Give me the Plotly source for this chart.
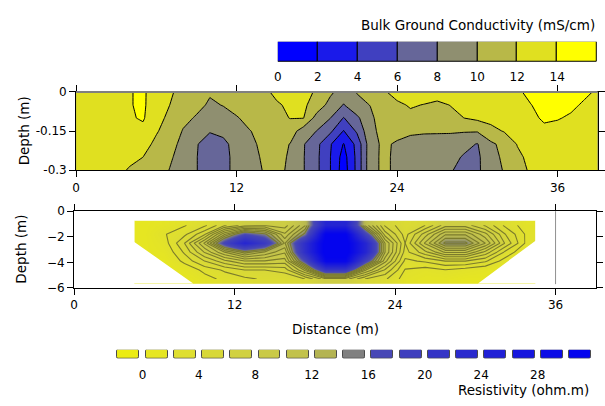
import numpy as np
import plotly.graph_objects as go

W, H = 605, 406

# ---------------- Top panel: bulk ground conductivity (mS/cm) ----------------
cond_x = list(range(0, 40))                       # distance (m)
cond_depth = [0, -0.05, -0.10, -0.15, -0.20, -0.25, -0.30]   # depth (m)
# one list per distance, values from surface to -0.3 m
cond_columns = [
    [13.0, 13.0, 13.0, 13.0, 13.0, 13.0, 13.0],
    [13.0, 13.0, 13.0, 13.0, 13.0, 13.0, 13.0],
    [13.0, 13.0, 13.0, 13.0, 13.0, 13.0, 12.9],
    [13.2, 13.2, 13.1, 13.0, 12.9, 12.8, 12.6],
    [13.9, 13.9, 13.8, 13.4, 13.0, 12.5, 11.8],
    [14.3, 14.3, 14.2, 13.5, 12.8, 12.0, 11.4],
    [13.0, 12.9, 12.6, 12.2, 11.5, 11.0, 10.7],
    [12.3, 12.0, 11.6, 11.0, 10.5, 10.2, 9.95],
    [11.3, 10.9, 10.4, 9.9, 9.6, 9.4, 9.2],
    [11.0, 10.4, 9.85, 9.3, 8.1, 8.05, 8.05],
    [10.15, 9.8, 9.2, 8.1, 7.3, 7.2, 7.2],
    [10.6, 10.05, 9.5, 8.4, 7.6, 7.5, 7.5],
    [11.2, 10.7, 9.85, 9.6, 8.6, 8.5, 8.5],
    [11.6, 11.2, 10.6, 9.95, 9.7, 9.6, 9.5],
    [11.6, 11.4, 11.0, 10.5, 10.3, 10.15, 10.05],
    [12.4, 11.8, 11.5, 11.0, 10.6, 10.4, 10.3],
    [12.6, 12.3, 12.05, 11.0, 9.95, 9.85, 9.8],
    [12.5, 12.3, 12.05, 9.0, 8.15, 8.1, 8.1],
    [11.8, 11.2, 9.2, 7.95, 6.5, 6.4, 6.4],
    [10.4, 9.3, 8.05, 6.4, 4.2, 4.05, 4.05],
    [9.0, 7.9, 5.9, 3.9, 1.9, 1.2, 1.0],
    [10.1, 9.4, 7.6, 6.3, 4.6, 4.5, 4.5],
    [11.2, 10.05, 9.6, 9.5, 9.2, 9.3, 9.3],
    [11.8, 11.4, 11.0, 10.6, 10.4, 10.4, 10.4],
    [12.6, 11.7, 11.3, 10.8, 9.7, 9.6, 9.6],
    [12.7, 12.15, 11.6, 10.3, 9.4, 9.3, 9.3],
    [12.8, 11.95, 11.5, 10.2, 9.3, 9.2, 9.2],
    [12.9, 11.6, 11.3, 10.2, 9.2, 9.0, 9.0],
    [13.0, 12.05, 11.5, 10.2, 9.1, 8.6, 8.1],
    [13.1, 12.5, 12.0, 10.15, 8.6, 7.8, 7.6],
    [13.2, 12.8, 12.4, 10.15, 7.9, 7.6, 7.6],
    [13.3, 12.9, 12.5, 11.5, 9.6, 9.4, 9.3],
    [13.4, 13.2, 12.8, 12.1, 10.6, 10.3, 10.1],
    [13.7, 13.5, 13.2, 12.7, 12.1, 11.6, 11.2],
    [14.5, 13.95, 13.6, 13.2, 12.8, 12.5, 12.3],
    [14.8, 14.6, 14.25, 13.6, 13.2, 13.0, 12.9],
    [14.8, 14.5, 14.1, 13.5, 13.2, 13.0, 13.0],
    [14.6, 14.3, 13.8, 13.4, 13.1, 13.0, 13.0],
    [14.3, 13.8, 13.5, 13.2, 13.0, 13.0, 13.0],
    [13.8, 13.5, 13.3, 13.1, 13.0, 13.0, 13.0],
]
cond_levels = [0, 2, 4, 6, 8, 10, 12, 14, 16]
cond_colors = ['#0000ff', '#1a1aea', '#4040c0', '#666699',
               '#8f8f70', '#b8b848', '#e0e020', '#ffff00']
x_ticks = [0, 12, 24, 36]

# ---------------- Bottom panel: resistivity pseudo-section (ohm.m) ----------------
res_x = [5.25, 6.75, 8.25, 9.75, 11.25, 12.75, 14.25, 15.75, 17.25, 18.75,
         20.25, 21.75, 23.25, 24.75, 26.25, 27.75, 29.25, 30.75, 32.25, 33.75]
res_depth = [-1.1, -1.8, -2.5, -3.2, -3.9, -4.6, -5.3]
res_rows = [
    [1.0, 1.5, 2.5, 3.5, 6.0, 8.0, 8.5, 8.0, 12, 24, 24, 12, 6.0, 4.0, 5.0, 8.0, 8.0, 6.0, 3.5, 2.0],
    [1.0, 2.5, 3.5, 6.0, 12, 17, 15, 10, 15, 31, 31, 18, 8.0, 4.5, 8.0, 12, 12, 9.0, 5.0, 2.5],
    [1.0, 2.0, 5.0, 10, 18, 24, 20, 12, 22, 32, 32, 24, 11, 5.0, 10, 15, 15, 11, 6.0, 2.5],
    [1.0, 1.5, 4.0, 7.5, 11, 14, 12, 10, 22, 32, 32, 24, 11, 4.5, 7.0, 10, 10, 7.0, 3.5, 1.5],
    [1.0, 1.0, 3.0, 5.0, 7.0, 8.5, 8.5, 8.0, 17, 30, 30, 18, 9.0, 3.5, 4.0, 5.0, 5.0, 4.0, 2.0, 1.0],
    [1.0, 1.0, 1.5, 3.0, 4.0, 5.0, 5.0, 5.5, 10, 20, 20, 10, 6.0, 2.5, 2.0, 2.5, 2.0, 1.5, 1.0, 1.0],
    [1.0, 1.0, 1.0, 2.0, 3.0, 3.5, 4.0, 4.0, 5.0, 8.0, 8.0, 5.0, 4.0, 2.0, 1.5, 1.5, 1.0, 1.0, 1.0, 1.0],
]
# outline of the surveyed (pseudo-section) area: (distance, depth)
coverage_left_x = [4.5, 4.5, 8.9]
coverage_left_depth = [-0.75, -2.4, -5.65]
coverage_right_x = [34.5, 34.5, 30.2]
coverage_right_depth = [-0.75, -2.3, -5.65]

res_bins = [-2, 0, 2, 4, 6, 8, 10, 12, 14, 16, 18, 20, 22, 24, 26, 28, 30]   # lower bound of each swatch
res_colors = ['#ecec12', '#e6e622', '#dfdf30', '#d8d838', '#d1d140', '#caca47',
              '#c2c24c', '#b4b452', '#808080', '#4848b6', '#3e3ebe', '#3434c6',
              '#2a2ace', '#2020d6', '#1616de', '#0c0ce6', '#0404ee']
res_ticks = [0, 4, 8, 12, 16, 20, 24, 28]
section_end = 36

# ---------------- derived ----------------
cond_z = np.array(cond_columns).T
n = len(cond_colors)
cond_scale = []
for k, c in enumerate(cond_colors):
    lo = 0 if k == 0 else (k - 0.5) / (n - 1)
    hi = 1 if k == n - 1 else (k + 0.5) / (n - 1)
    cond_scale += [[lo, c], [hi, c]]
cond_mid = [(a + b) / 2 for a, b in zip(cond_levels[:-1], cond_levels[1:])]

zmin, zmax = res_bins[0], res_bins[-1] + 2
res_centers = [b + 1 for b in res_bins]
res_scale = [[0, res_colors[0]]] + [[(v - zmin) / (zmax - zmin), c] for v, c in zip(res_centers, res_colors)] + [[1, res_colors[-1]]]

FONT = 'DejaVu Sans'
fig = go.Figure()

fig.add_trace(go.Contour(
    x=cond_x, y=cond_depth, z=cond_z,
    contours=dict(start=cond_levels[1], end=cond_levels[-2], size=2, coloring='fill'),
    colorscale=cond_scale, showscale=False,
    line=dict(color='black', width=1, smoothing=0),
    xaxis='x', yaxis='y', hoverinfo='skip'))

# conductivity colour key (discrete bar)
fig.add_trace(go.Bar(
    x=cond_mid, y=[1] * len(cond_mid), base=0, width=2,
    marker=dict(color=cond_colors, line=dict(color='black', width=1)),
    xaxis='x4', yaxis='y4', hoverinfo='skip'))

fig.add_trace(go.Heatmap(
    x=res_x, y=res_depth, z=res_rows, zmin=zmin, zmax=zmax, zsmooth='best',
    colorscale=res_scale, showscale=False, xaxis='x2', yaxis='y2', hoverinfo='skip'))

fig.add_trace(go.Contour(
    x=res_x, y=res_depth, z=res_rows,
    contours=dict(start=2.6, end=15, size=1.2, coloring='none'),
    line=dict(color='#7c7c2c', width=1.1, smoothing=0),
    showscale=False, xaxis='x2', yaxis='y2', hoverinfo='skip'))

# blank the parts of the rectangle outside the surveyed area
for cx, cd, edge in [(coverage_left_x, coverage_left_depth, 0), (coverage_right_x, coverage_right_depth, 39)]:
    fig.add_trace(go.Scatter(
        x=[edge, cx[0], cx[1], cx[2], edge], y=[cd[0], cd[0], cd[1], cd[2], cd[2]],
        fill='toself', fillcolor='white', mode='lines', line=dict(width=0, color='white'),
        xaxis='x2', yaxis='y2', hoverinfo='skip'))

fig.add_trace(go.Bar(
    x=res_centers, y=[1] * len(res_centers), base=0, width=1.55,
    marker=dict(color=res_colors, line=dict(color='#4a4a4a', width=1), cornerradius=2),
    xaxis='x3', yaxis='y3', hoverinfo='skip'))

axis_common = dict(showgrid=False, zeroline=False, showline=True, linecolor='black', linewidth=1,
                   mirror='ticks', ticks='outside', ticklen=6, tickcolor='black',
                   tickfont=dict(size=12, color='black', family=FONT))
key_font = dict(size=12, color='black', family=FONT)

fig.update_layout(
    width=W, height=H, margin=dict(l=0, r=0, t=0, b=0),
    paper_bgcolor='white', plot_bgcolor='white', showlegend=False,
    font=dict(family=FONT, color='black'),
    xaxis=dict(domain=[73 / W, 600.6 / W], range=[0, 39], anchor='y', tickvals=x_ticks, **axis_common),
    yaxis=dict(domain=[1 - 169 / H, 1 - 88 / H], range=[-0.3, 0], anchor='x',
               tickvals=[0, -0.15, -0.3], ticktext=['0', '-0.15', '-0.3'], **axis_common),
    xaxis2=dict(domain=[71 / W, 598.6 / W], range=[0, 39], anchor='y2', tickvals=x_ticks, **axis_common),
    yaxis2=dict(domain=[1 - 291 / H, 1 - 211.5 / H], range=[-6, 0], anchor='x2',
                tickvals=[0, -2, -4, -6], **axis_common),
    xaxis3=dict(domain=[0, 1], range=[-9.809, 32.555], anchor='y3', tickvals=res_ticks,
                showgrid=False, zeroline=False, showline=False, ticks='outside', ticklen=5,
                tickcolor='rgba(0,0,0,0)', tickfont=key_font),
    yaxis3=dict(domain=[1 - 364 / H, 1 - 355 / H], range=[0, 1], anchor='x3', visible=False),
    xaxis4=dict(domain=[277 / W, 600 / W], range=[0, 16], anchor='y4', tickvals=cond_levels[:-1],
                showgrid=False, zeroline=False, showline=False, ticks='outside', ticklen=4,
                tickcolor='rgba(0,0,0,0)', tickfont=key_font),
    yaxis4=dict(domain=[1 - 57 / H, 1 - 36 / H], range=[0, 1], anchor='x4', visible=False),
    bargap=0,
)

fig.add_shape(type='line', xref='x domain', yref='y domain', x0=0, x1=1, y0=1, y1=1,
              line=dict(color='#808080', width=2), layer='above')
fig.add_shape(type='line', xref='x2', yref='y2 domain', x0=section_end, x1=section_end, y0=0.05, y1=1,
              line=dict(color='#909090', width=1), layer='above')

title_font = dict(size=13.5, color='black', family=FONT)
annots = [
    dict(text='Bulk Ground Conductivity (mS/cm)', x=600 / W, y=1 - 19 / H, xanchor='right', yanchor='middle'),
    dict(text='Depth (m)', x=20 / W, y=1 - 128 / H, xanchor='center', yanchor='middle', textangle=-90),
    dict(text='Depth (m)', x=17.5 / W, y=1 - 251 / H, xanchor='center', yanchor='middle', textangle=-90),
    dict(text='Distance (m)', x=335 / W, y=1 - 333 / H, xanchor='center', yanchor='middle'),
    dict(text='Resistivity (ohm.m)', x=594 / W, y=1 - 397 / H, xanchor='right', yanchor='middle'),
]
for a in annots:
    fig.add_annotation(xref='paper', yref='paper', showarrow=False, font=title_font, **a)

fig.write_html('out.html')
